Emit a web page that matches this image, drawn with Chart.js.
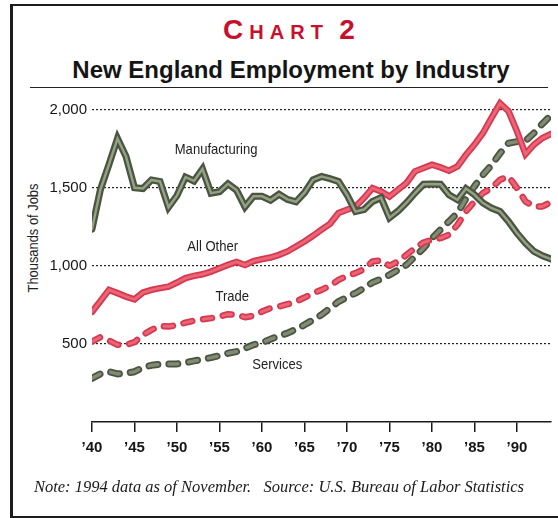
<!DOCTYPE html>
<html>
<head>
<meta charset="utf-8">
<script src="https://cdn.jsdelivr.net/npm/chart.js@4.4.1/dist/chart.umd.min.js"></script>
<style>
  html, body { margin: 0; padding: 0; background: #fff; }
  body { width: 558px; height: 518px; position: relative; overflow: hidden; font-family: "Liberation Sans", Arial, sans-serif; }
  #frame { position: absolute; left: 10px; top: 4px; width: 620px; height: 510px; border: 2px solid #1c1c1c; border-left-width: 3px; }
  #kicker { position: absolute; left: 0; width: 584px; top: 14px; text-align: center; color: #c8102e; font-weight: bold; letter-spacing: 6px; white-space: nowrap; }
  #kicker .big { font-size: 28px; }
  #kicker .small { font-size: 20px; }
  #title { position: absolute; left: 0; width: 582px; top: 56px; text-align: center; font-size: 24px; font-weight: bold; color: #151515; white-space: nowrap; }
  #rule { position: absolute; left: 30px; width: 518px; top: 87px; border-top: 1.5px solid #222; }
  #ytitle { position: absolute; left: 32px; top: 238px; transform: translate(-50%, -50%) rotate(-90deg) scaleX(0.86); font-size: 15px; color: #222; white-space: nowrap; }
  #note { position: absolute; left: 0; width: 558px; top: 477px; text-align: center; font-family: "Liberation Serif", serif; font-style: italic; font-size: 16.5px; color: #1a1a1a; white-space: pre; }
  canvas { position: absolute; left: 0; top: 0; }
</style>
</head>
<body>
<div id="frame"></div>
<div id="kicker"><span class="big">C</span><span class="small">HART</span> <span class="big">2</span></div>
<div id="title">New England Employment by Industry</div>
<div id="rule"></div>
<div id="ytitle">Thousands of Jobs</div>
<canvas id="jobsChart" width="558" height="518"></canvas>
<div id="note">Note: 1994 data as of November.   Source: U.S. Bureau of Labor Statistics</div>

<script>
// employment in thousands, New England, 1940-1994
const years = [
  1940, 1941, 1942, 1943, 1944, 1945, 1946, 1947, 1948, 1949,
  1950, 1951, 1952, 1953, 1954, 1955, 1956, 1957, 1958, 1959,
  1960, 1961, 1962, 1963, 1964, 1965, 1966, 1967, 1968, 1969,
  1970, 1971, 1972, 1973, 1974, 1975, 1976, 1977, 1978, 1979,
  1980, 1981, 1982, 1983, 1984, 1985, 1986, 1987, 1988, 1989,
  1990, 1991, 1992, 1993, 1994
];

const manufacturing = [
  1235, 1490, 1650, 1815, 1700, 1500, 1495, 1550, 1540, 1375,
  1450, 1568, 1543, 1620, 1465, 1475, 1525, 1485, 1378, 1445,
  1445, 1420, 1458, 1425, 1410, 1468, 1550, 1572, 1558, 1540,
  1455, 1348, 1360, 1412, 1436, 1308, 1350, 1404, 1466, 1522,
  1524, 1522, 1455, 1423, 1495, 1455, 1402, 1370, 1348, 1284,
  1209, 1145, 1092, 1064, 1043
];

const allOther = [
  705, 775, 846, 825, 803, 785, 829, 846, 857, 867,
  893, 921, 936, 946, 963, 985, 1006, 1025, 1005, 1030,
  1043, 1053, 1070, 1092, 1124, 1156, 1192, 1231, 1269, 1338,
  1359, 1380, 1434, 1498, 1476, 1444, 1487, 1530, 1605, 1626,
  1647, 1630, 1609, 1636, 1711, 1776, 1850, 1947, 2040, 1990,
  1861, 1715, 1776, 1818, 1844
];

const trade = [
  515, 543, 521, 494, 494, 511, 558, 590, 615, 611,
  620, 636, 649, 658, 665, 675, 690, 686, 671, 680,
  707, 729, 739, 754, 771, 797, 825, 846, 872, 910,
  936, 953, 978, 1028, 1034, 1000, 1028, 1070, 1113, 1149,
  1167, 1177, 1199, 1263, 1348, 1412, 1466, 1498, 1551, 1572,
  1498, 1412, 1380, 1380, 1408
];

const services = [
  280, 308, 322, 308, 312, 322, 350, 363, 370, 372,
  372, 380, 391, 402, 412, 425, 440, 451, 472, 494,
  508, 530, 551, 569, 594, 622, 654, 686, 729, 771,
  799, 825, 857, 893, 915, 942, 974, 1006, 1060, 1113,
  1177, 1231, 1284, 1338, 1430, 1510, 1583, 1645, 1720, 1785,
  1795, 1800, 1850, 1910, 1965
];

const xTicks = [1940, 1945, 1950, 1955, 1960, 1965, 1970, 1975, 1980, 1985, 1990];
const yTicks = [500, 1000, 1500, 2000];

// in-chart names, anchored in data units
const seriesNames = [
  { text: 'Manufacturing', year: 1954.6, value: 1744 },
  { text: 'All Other', year: 1954.2, value: 1122 },
  { text: 'Trade', year: 1956.5, value: 801 },
  { text: 'Services', year: 1961.8, value: 365 }
];

const sans = '"Liberation Sans", Arial, sans-serif';
const DASH = [9, 11];

// each series is a wide dark edge with a thinner lighter core on top
function twoTone(name, data, edge, core, edgeW, coreW, dash, order) {
  const base = {
    label: name, data, tension: 0, pointRadius: 0, fill: false,
    borderCapStyle: 'round', borderJoinStyle: dash ? 'round' : 'miter',
    borderDash: dash || []
  };
  return [
    { ...base, borderColor: edge, borderWidth: edgeW, order: order + 1 },
    { ...base, borderColor: core, borderWidth: coreW, order: order }
  ];
}

// names drawn slightly condensed, like the axis title
const nameLabels = {
  id: 'nameLabels',
  afterDatasetsDraw(chart) {
    const { ctx, scales: { x, y } } = chart;
    ctx.save();
    ctx.font = '15px ' + sans;
    ctx.fillStyle = '#222';
    ctx.textAlign = 'center';
    ctx.textBaseline = 'middle';
    seriesNames.forEach(n => {
      const px = x.getPixelForValue(n.year);
      const py = y.getPixelForValue(n.value);
      ctx.save();
      ctx.translate(px, py);
      ctx.scale(0.87, 1);
      ctx.fillText(n.text, 0, 0);
      ctx.restore();
    });
    ctx.restore();
  }
};

new Chart(document.getElementById('jobsChart'), {
  type: 'line',
  data: {
    labels: years,
    datasets: [
      ...twoTone('Manufacturing', manufacturing, '#4b5343', '#93a281', 7, 2.5, null, 0),
      ...twoTone('All Other', allOther, '#d6384f', '#ea6575', 6.5, 3, null, 2),
      ...twoTone('Trade', trade, '#d6384f', '#ea6575', 6.5, 3, DASH, 4),
      ...twoTone('Services', services, '#4b5343', '#808c72', 7, 3.5, DASH, 6)
    ]
  },
  options: {
    responsive: false,
    animation: false,
    devicePixelRatio: 1,
    layout: { padding: { left: 0, right: 7, top: 94, bottom: 56 } },
    plugins: { legend: { display: false }, tooltip: { enabled: false } },
    scales: {
      x: {
        type: 'linear',
        min: 1940,
        max: 1994,
        afterFit: s => { s.height = 40; },
        afterBuildTicks: s => { s.ticks = xTicks.map(v => ({ value: v })); },
        grid: { drawOnChartArea: false, drawTicks: true, tickLength: 10, color: '#1a1a1a', lineWidth: 1.5 },
        border: { display: true, color: '#1a1a1a', width: 1.5 },
        ticks: {
          autoSkip: false, maxRotation: 0, padding: 7, color: '#151515',
          font: { family: sans, size: 15, weight: 'bold' },
          callback: v => '\u2019' + String(v).slice(2)
        }
      },
      y: {
        min: 0,
        max: 2100,
        afterFit: s => { s.width = 92; },
        afterBuildTicks: s => { s.ticks = yTicks.map(v => ({ value: v })); },
        grid: { drawTicks: false, color: '#222', lineWidth: 1.2 },
        border: { display: false, dash: [2, 2] },
        ticks: {
          padding: 5, color: '#151515',
          font: { family: sans, size: 15 },
          callback: v => v.toLocaleString('en-US')
        }
      }
    }
  },
  plugins: [nameLabels]
});
</script>
</body>
</html>
